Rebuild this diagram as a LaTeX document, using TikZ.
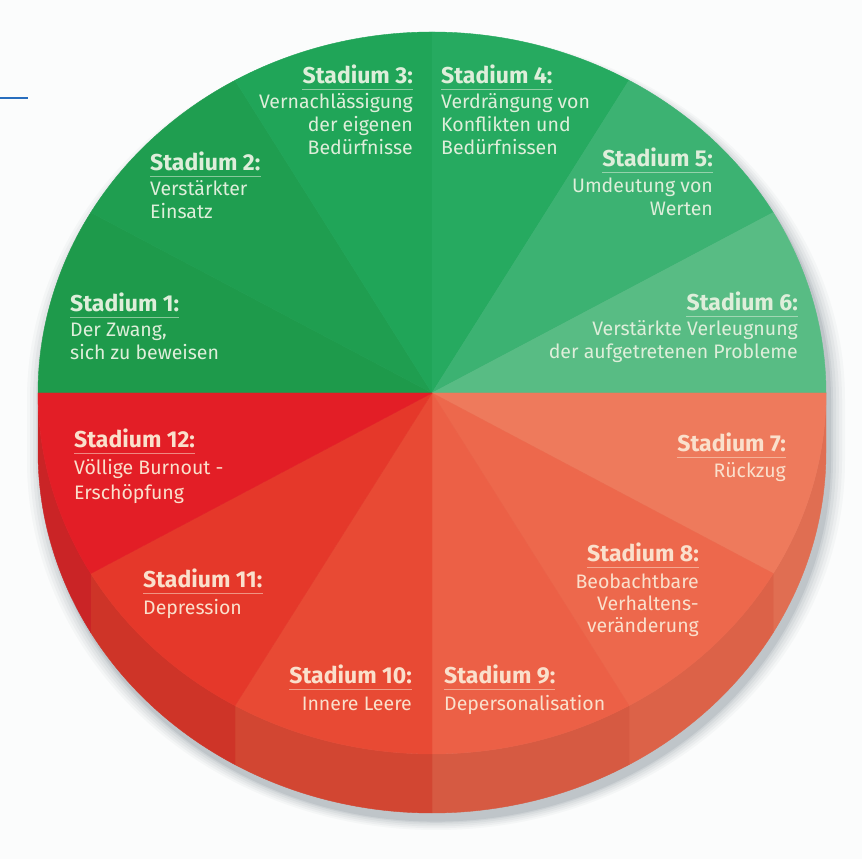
\documentclass[tikz,border=0pt]{standalone}
\usepackage{fontspec}
\setmainfont{Fira Sans}
\definecolor{bgc}{RGB}{251,252,252}
\definecolor{shc}{RGB}{95,105,118}
\definecolor{g1}{RGB}{30,154,75}
\definecolor{g2}{RGB}{31,158,80}
\definecolor{g3}{RGB}{32,165,88}
\definecolor{g4}{RGB}{38,170,96}
\definecolor{g5}{RGB}{60,178,114}
\definecolor{g6}{RGB}{88,188,132}
\definecolor{r7}{RGB}{238,122,92}
\definecolor{r8}{RGB}{237,104,76}
\definecolor{r9}{RGB}{236,96,70}
\definecolor{r10}{RGB}{232,74,52}
\definecolor{r11}{RGB}{229,56,42}
\definecolor{r12}{RGB}{227,30,38}
\definecolor{s7}{RGB}{224,110,82}
\definecolor{s8}{RGB}{220,98,72}
\definecolor{s9}{RGB}{214,90,66}
\definecolor{s10}{RGB}{210,70,50}
\definecolor{s11}{RGB}{206,52,40}
\definecolor{s12}{RGB}{202,36,38}
\definecolor{tg}{RGB}{222,238,218}
\definecolor{tr}{RGB}{250,224,204}
\definecolor{bluel}{RGB}{40,110,190}
\begin{document}
\begin{tikzpicture}[x=1pt,y=1pt,
  head/.style={inner sep=0pt, font=\fontsize{23}{27}\selectfont\bfseries},
  body/.style={inner sep=0pt, font=\fontsize{19.5}{23}\selectfont},
  ulg/.style={draw=tg, line width=0.8pt, opacity=0.55},
  ulr/.style={draw=tr, line width=0.8pt, opacity=0.55}]
\useasboundingbox (0,0) rectangle (862,859);
\fill[bgc] (0,0) rectangle (862,859);
% blue mark
\coordinate (bl1) at (0,761);
\coordinate (bl2) at (28,761);
\draw[bluel, line width=1.2pt] (bl1) -- (bl2);
% shadow
\foreach \r/\o in {15/0.04, 12/0.05, 9/0.06, 6/0.07, 3/0.09, 1/0.12} {
  \fill[shc, opacity=\o] ({432+394+\r+4},459) arc[start angle=0, end angle=180, x radius={394pt+\r pt}, y radius={361pt+0.4*\r pt}] -- ++(0,-60) arc[start angle=180, end angle=360, x radius={394pt+\r pt}, y radius={361pt+0.6*\r pt}] -- cycle;
}
% side of the disk
\foreach \a/\b/\c in {-30/0/s7, -60/-30/s8, -90/-60/s9, -120/-90/s10, -150/-120/s11, -180/-150/s12} {
  \fill[\c, draw=\c, line width=0.4pt] ([shift={(432,466)}]\a:394pt and 361pt) arc[start angle=\a, end angle=\b, x radius=394pt, y radius=361pt] -- ++(0,-59) arc[start angle=\b, end angle=\a, x radius=394pt, y radius=361pt] -- cycle;
}
% top face
\coordinate (C) at (432,466);
\foreach \a/\b/\c in {150/180/g1, 120/150/g2, 90/120/g3, 60/90/g4, 30/60/g5, 0/30/g6, -30/0/r7, -60/-30/r8, -90/-60/r9, -120/-90/r10, -150/-120/r11, -180/-150/r12} {
  \fill[\c, draw=\c, line width=0.4pt, line join=round] (C) -- ([shift={(432,466)}]\a:394pt and 361pt) arc[start angle=\a, end angle=\b, x radius=394pt, y radius=361pt] -- cycle;
}
% texts - green half
\node[head, tg, anchor=base west] (h1) at (70,547) {Stadium 1:};
\node[body, tg, anchor=base west] (b1a) at (70,522) {Der Zwang,};
\node[body, tg, anchor=base west] (b1b) at (70,499) {sich zu beweisen};
\node[head, tg, anchor=base west] (h2) at (150,688) {Stadium 2:};
\node[body, tg, anchor=base west] (b2a) at (150,663) {Verstärkter};
\node[body, tg, anchor=base west] (b2b) at (150,640) {Einsatz};
\node[head, tg, anchor=base east] (h3) at (413,775) {Stadium 3:};
\node[body, tg, anchor=base east] (b3a) at (413,750) {Vernachlässigung};
\node[body, tg, anchor=base east] (b3b) at (413,727) {der eigenen};
\node[body, tg, anchor=base east] (b3c) at (413,704) {Bedürfnisse};
\node[head, tg, anchor=base west] (h4) at (441,775) {Stadium 4:};
\node[body, tg, anchor=base west] (b4a) at (441,750) {Verdrängung von};
\node[body, tg, anchor=base west] (b4b) at (441,727) {Konflikten und};
\node[body, tg, anchor=base west] (b4c) at (441,704) {Bedürfnissen};
\node[head, tg, anchor=base east] (h5) at (713,692) {Stadium 5:};
\node[body, tg, anchor=base east] (b5a) at (713,666) {Umdeutung von};
\node[body, tg, anchor=base east] (b5b) at (713,643) {Werten};
\node[head, tg, anchor=base east] (h6) at (798,548) {Stadium 6:};
\node[body, tg, anchor=base east] (b6a) at (798,523) {Verstärkte Verleugnung};
\node[body, tg, anchor=base east] (b6b) at (798,500) {der aufgetretenen Probleme};
% texts - red half
\node[head, tr, anchor=base east] (h7) at (786,407) {Stadium 7:};
\node[body, tr, anchor=base east] (b7a) at (786,381) {Rückzug};
\node[head, tr, anchor=base east] (h8) at (699,297) {Stadium 8:};
\node[body, tr, anchor=base east] (b8a) at (699,270) {Beobachtbare};
\node[body, tr, anchor=base east] (b8b) at (699,248) {Verhaltens-};
\node[body, tr, anchor=base east] (b8c) at (699,226) {veränderung};
\node[head, tr, anchor=base west] (h9) at (444,175) {Stadium 9:};
\node[body, tr, anchor=base west] (b9a) at (444,148) {Depersonalisation};
\node[head, tr, anchor=base east] (h10) at (412,175) {Stadium 10:};
\node[body, tr, anchor=base east] (b10a) at (412,148) {Innere Leere};
\node[head, tr, anchor=base west] (h11) at (143,271) {Stadium 11:};
\node[body, tr, anchor=base west] (b11a) at (143,244) {Depression};
\node[head, tr, anchor=base west] (h12) at (74,411) {Stadium 12:};
\node[body, tr, anchor=base west] (b12a) at (74,384) {Völlige Burnout -};
\node[body, tr, anchor=base west] (b12b) at (74,359) {Erschöpfung};
% underlines
\foreach \n in {h1,h2,h3,h4,h5,h6} {
  \draw[ulg] ([yshift=-5pt]\n.base west) -- ([yshift=-5pt]\n.base east);
}
\foreach \n in {h7,h8,h9,h10,h11,h12} {
  \draw[ulr] ([yshift=-5pt]\n.base west) -- ([yshift=-5pt]\n.base east);
}
\end{tikzpicture}
\end{document}
